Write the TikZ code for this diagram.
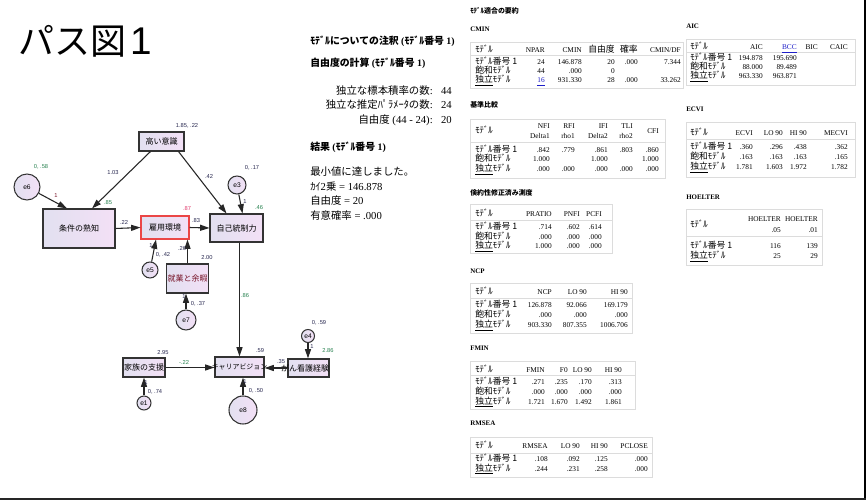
\documentclass[tikz,border=0pt]{standalone}
\usepackage{fontspec}
\setmainfont{Liberation Serif}
\newfontfamily\jp{Noto Sans CJK JP}
\newfontfamily\lsans{Liberation Sans}
\usetikzlibrary{arrows.meta,calc}
\definecolor{boxL}{RGB}{226,224,240}
\definecolor{boxR}{RGB}{243,224,246}
\definecolor{pdark}{RGB}{40,40,80}
\definecolor{pgreen}{RGB}{40,130,80}
\definecolor{pred}{RGB}{120,20,40}
\definecolor{ppink}{RGB}{225,60,110}
\definecolor{redbox}{RGB}{235,70,70}
\definecolor{tline}{RGB}{220,220,220}
\definecolor{linkc}{RGB}{30,30,200}
\newcommand\bj{\jp\fontsize{6}{7}\selectfont}
\newcommand\pl{\lsans\fontsize{4.3}{5}\selectfont}
\newcommand\tf{\fontsize{5.5}{7}\selectfont}
\newcommand\thf{\bfseries\fontsize{5.2}{6}\selectfont}
\newcommand\tj[1]{{\jp\fontsize{6.6}{7}\selectfont #1}}
\newcommand\thj[1]{{\jp\bfseries\fontsize{5.2}{6}\selectfont #1}}
\newcommand\mM{\tj{ﾓﾃﾞﾙ}}
\newcommand\mA{\tj{ﾓﾃﾞﾙ番号 1}}
\newcommand\mS{\tj{飽和ﾓﾃﾞﾙ}}
\newcommand\mI{\tj{\underline{独立}ﾓﾃﾞﾙ}}
\newcommand\hb[1]{{\jp\bfseries #1}}
\newcommand\mj[1]{{\jp\fontsize{7.8}{9}\selectfont #1}}
\newcommand\trow[4]{\node[tl] (#1) at (\tx,#2) {#3};
  \foreach \xx/\cellt [count=\k] in {#4} {\node[tc] (#1-\k) at (\xx,#2) {\cellt};}}
\begin{document}
\begin{tikzpicture}[x=0.75pt,y=-0.75pt,
  var/.style={draw=black!80, line width=0.8pt, left color=boxL, right color=boxR, inner sep=0, font=\bj},
  evar/.style={circle, draw=black!80, line width=0.8pt, left color=boxL, right color=boxR, inner sep=0, font=\lsans\fontsize{5}{6}\selectfont},
  arr/.style={draw=black!85, line width=0.8pt, -{Triangle[length=7pt,width=4.5pt]}},
  lab/.style={inner sep=0, font=\pl, text=pdark},
  tc/.style={anchor=base east, inner sep=0, font=\tf},
  tl/.style={anchor=base west, inner sep=0, font=\tf},
  th/.style={anchor=base west, inner sep=0, font=\thf},
  tbl/.style={draw=tline, line width=0.75pt},
  mh/.style={anchor=base west, inner sep=0, font=\bfseries\fontsize{7.4}{9}\selectfont},
  mr/.style={anchor=base east, inner sep=0, font=\fontsize{8}{9}\selectfont},
  mtxt/.style={anchor=base west, inner sep=0, font=\fontsize{8}{9}\selectfont}]
\useasboundingbox (0,0) rectangle (868,502);
\fill[white] (0,0) rectangle (868,502);
% page border
\draw[black, line width=2.2pt] (865,0) -- (865,500);
\draw[black!85, line width=1.2pt] (0,499) -- (866,499);
% title
\node[anchor=base west, inner sep=0] (title) at (18,55) {\jp\fontsize{27}{30}\selectfont パス図\hspace{3pt}{\lsans\fontsize{29}{30}\selectfont 1}};
% ---------------- path diagram ----------------
\node[var, minimum width=45*0.75pt, minimum height=19*0.75pt] (koi) at (161.5,141.5) {高い意識};
\node[var, minimum width=72*0.75pt, minimum height=39*0.75pt] (jouken) at (79,228.5) {条件の熟知};
\node[var, draw=redbox, minimum width=48*0.75pt, minimum height=23*0.75pt] (koyou) at (165,227.5) {雇用環境};
\node[var, minimum width=53*0.75pt, minimum height=28*0.75pt] (jiko) at (236.5,228) {自己統制力};
\node[var, minimum width=42*0.75pt, minimum height=29*0.75pt] (shugyo) at (187.5,278.5) {};
\node[inner sep=0, font=\bj, text=pred] (shugyot) at (187.5,278.5) {就業と余暇};
\node[var, minimum width=42*0.75pt, minimum height=19*0.75pt] (kazoku) at (144,367.5) {};
\node[inner sep=0, font=\bj] (kazokut) at (144,367.5) {家族の支援};
\node[var, minimum width=49*0.75pt, minimum height=20*0.75pt] (career) at (239.5,367) {};
\node[inner sep=0, font=\jp\fontsize{5.2}{6}\selectfont] (careert) at (239.5,367) {キャリアビジョン};
\node[var, minimum width=41*0.75pt, minimum height=18*0.75pt] (gan) at (308.5,368) {};
\node[inner sep=0, font=\bj] (gant) at (305,368) {がん看護経験};
\node[evar, minimum size=26*0.75pt] (e6) at (27,187) {e6};
\node[evar, minimum size=18*0.75pt] (e3) at (237,185) {e3};
\node[evar, minimum size=16*0.75pt] (e5) at (150,270) {e5};
\node[evar, minimum size=20*0.75pt] (e7) at (186,320) {e7};
\node[evar, minimum size=14*0.75pt] (e1) at (144,403) {e1};
\node[evar, minimum size=28*0.75pt] (e8) at (243,410) {e8};
\node[evar, minimum size=13*0.75pt] (e4) at (308,336) {e4};
% connectors
\draw[arr] (e6) -- ($(jouken.north)+(-12,0)$);
\draw[arr] ($(koi.south)+(-11,0)$) -- ($(jouken.north)+(13,0)$);
\draw[arr] ($(koi.south)+(17,0)$) -- ($(jiko.north)+(-10,0)$);
\draw[arr] (jouken.east) -- (koyou.west);
\draw[arr] (koyou.east) -- (jiko.west);
\draw[arr] (e3) -- ($(jiko.north)+(6,0)$);
\draw[arr] (e5) -- ($(koyou.south)+(-9,0)$);
\draw[arr] (shugyo.north) -- (shugyo.north |- koyou.south);
\draw[arr] (e7.north) -- (e7.north |- shugyo.south);
\draw[arr] (e1.north) -- (e1.north |- kazoku.south);
\draw[arr] (kazoku.east) -- (kazoku.east -| career.west);
\draw[arr] (career.north |- jiko.south) -- (career.north);
\draw[arr] (e8.north) -- (e8.north |- career.south);
\draw[arr] (gan.west) -- (gan.west -| career.east);
\draw[arr] (e4.south) -- (e4.south |- gan.north);
% labels
\node[lab] (l1) at (187,126) {1.85, .22};
\node[lab] (l2) at (113,173) {1.03};
\node[lab, text=pgreen] (l3) at (108,203) {.85};
\node[lab, text=pgreen] (l4) at (41,167) {0, .58};
\node[lab, text=pred] (l5) at (56,196) {1};
\node[lab] (l6) at (124,222) {.22};
\node[lab, text=ppink] (l7) at (187,209) {.87};
\node[lab] (l8) at (196,221) {.83};
\node[lab] (l9) at (209,177) {.42};
\node[lab] (l10) at (252,168) {0, .17};
\node[lab] (l11) at (245,202) {1};
\node[lab, text=pgreen] (l12) at (259,208) {.46};
\node[lab] (l13) at (151,246) {1};
\node[lab] (l14) at (163,255) {0, .42};
\node[lab] (l15) at (182,249) {.26};
\node[lab] (l16) at (207,258) {2.00};
\node[lab] (l17) at (184,297) {1};
\node[lab] (l18) at (198,304) {0, .37};
\node[lab, text=pgreen] (l19) at (245,296) {.86};
\node[lab] (l20) at (260,351) {.59};
\node[lab] (l21) at (163,353) {2.95};
\node[lab, text=pgreen] (l22) at (184,362) {-.22};
\node[lab] (l23) at (146,383) {1};
\node[lab] (l24) at (155,392) {0, .74};
\node[lab] (l25) at (245,382) {1};
\node[lab] (l26) at (256,391) {0, .50};
\node[lab] (l27) at (281,362) {.35};
\node[lab] (l28) at (312,347) {1};
\node[lab] (l29) at (319,323) {0, .59};
\node[lab, text=pgreen] (l30) at (328,351) {2.86};
% ---------------- middle text ----------------
\node[mh] (note) at (310,45) {\hb{ﾓﾃﾞﾙについての注釈} (\hb{ﾓﾃﾞﾙ番号} 1)};
\node[mh] (dfcalc) at (310,67) {\hb{自由度の計算} (\hb{ﾓﾃﾞﾙ番号} 1)};
\node[mr] (m1l) at (433,95) {\mj{独立な標本積率の数}:};
\node[mr] (m1v) at (452,95) {44};
\node[mr] (m2l) at (433,109) {\mj{独立な推定ﾊﾟﾗﾒｰﾀの数}:};
\node[mr] (m2v) at (452,109) {24};
\node[mr] (m3l) at (433,124) {\mj{自由度} (44 - 24):};
\node[mr] (m3v) at (452,124) {20};
\node[mh] (res) at (310,151) {\hb{結果} (\hb{ﾓﾃﾞﾙ番号} 1)};
\node[mtxt] (r1) at (310,176) {\mj{最小値に達しました。}};
\node[mtxt] (r2) at (310,191) {\mj{ｶｲ}2\mj{乗} = 146.878};
\node[mtxt] (r3) at (310,205) {\mj{自由度} = 20};
\node[mtxt] (r4) at (310,220) {\mj{有意確率} = .000};
% ---------------- tables left ----------------
\def\tx{475}
\node[th] (hfit) at (470,14) {\thj{ﾓﾃﾞﾙ適合の要約}};
\node[th] (hcmin) at (470,32) {CMIN};
\draw[tbl] (470,43) rectangle (683,89); \draw[tbl] (470,56) -- (683,56);
\trow{cminh}{53}{\mM}{545/NPAR, 582/CMIN, 615/\tj{自由度}, 638/\tj{確率}, 681/{CMIN/DF}}
\trow{cmina}{65}{\mA}{545/24, 582/146.878, 615/20, 638/.000, 681/7.344}
\trow{cmins}{74}{\mS}{545/44, 582/.000, 615/0}
\trow{cmini}{83}{\mI}{545/\textcolor{linkc}{\underline{16}}, 582/931.330, 615/28, 638/.000, 681/33.262}
%
\node[th] (hbase) at (470,108) {\thj{基準比較}};
\draw[tbl] (470,120) rectangle (665,179); \draw[tbl] (470,143) -- (665,143);
\node[tl] (baseh) at (475,134) {\mM};
\foreach \xx/\cellt [count=\k] in {550/NFI, 575/RFI, 608/IFI, 633/TLI} {\node[tc] (bh1-\k) at (\xx,129) {\cellt};}
\foreach \xx/\cellt [count=\k] in {550/Delta1, 575/rho1, 608/Delta2, 633/rho2} {\node[tc] (bh2-\k) at (\xx,139) {\cellt};}
\node[tc] (bhcfi) at (659,134) {CFI};
\trow{basea}{153}{\mA}{550/.842, 575/.779, 608/.861, 633/.803, 659/.860}
\trow{bases}{162}{\mS}{550/1.000, 608/1.000, 659/1.000}
\trow{basei}{172}{\mI}{550/.000, 575/.000, 608/.000, 633/.000, 659/.000}
%
\node[th] (hpars) at (470,196) {\thj{倹約性修正済み測度}};
\draw[tbl] (470,205) rectangle (612,254); \draw[tbl] (470,221) -- (612,221);
\trow{parh}{217}{\mM}{552/PRATIO, 580/PNFI, 602/PCFI}
\trow{para}{230}{\mA}{552/.714, 580/.602, 602/.614}
\trow{pars}{240}{\mS}{552/.000, 580/.000, 602/.000}
\trow{pari}{249}{\mI}{552/1.000, 580/.000, 602/.000}
%
\node[th] (hncp) at (470,274) {NCP};
\draw[tbl] (470,284) rectangle (632,334); \draw[tbl] (470,299) -- (632,299);
\trow{ncph}{295}{\mM}{552/NCP, 587/LO 90, 628/HI 90}
\trow{ncpa}{308}{\mA}{552/126.878, 587/92.066, 628/169.179}
\trow{ncps}{318}{\mS}{552/.000, 587/.000, 628/.000}
\trow{ncpi}{328}{\mI}{552/903.330, 587/807.355, 628/1006.706}
%
\node[th] (hfmin) at (470,351) {FMIN};
\draw[tbl] (470,362) rectangle (635,410); \draw[tbl] (470,376) -- (635,376);
\trow{fminh}{373}{\mM}{545/FMIN, 568/F0, 592/LO 90, 622/HI 90}
\trow{fmina}{384}{\mA}{545/.271, 568/.235, 592/.170, 622/.313}
\trow{fmins}{394}{\mS}{545/.000, 568/.000, 592/.000, 622/.000}
\trow{fmini}{404}{\mI}{545/1.721, 568/1.670, 592/1.492, 622/1.861}
%
\node[th] (hrmsea) at (470,426) {RMSEA};
\draw[tbl] (470,437) rectangle (652,477); \draw[tbl] (470,453) -- (652,453);
\trow{rmh}{449}{\mM}{548/RMSEA, 580/LO 90, 608/HI 90, 648/PCLOSE}
\trow{rma}{461}{\mA}{548/.108, 580/.092, 608/.125, 648/.000}
\trow{rmi}{471}{\mI}{548/.244, 580/.231, 608/.258, 648/.000}
% ---------------- tables right ----------------
\def\tx{690}
\node[th] (haic) at (686,29) {AIC};
\draw[tbl] (686,40) rectangle (855,86); \draw[tbl] (686,53) -- (855,53);
\trow{aich}{50}{\mM}{763/AIC, 797/\textcolor{linkc}{\underline{BCC}}, 818/BIC, 848/CAIC}
\trow{aica}{61}{\mA}{763/194.878, 797/195.690}
\trow{aics}{70}{\mS}{763/88.000, 797/89.489}
\trow{aici}{79}{\mI}{763/963.330, 797/963.871}
%
\node[th] (hecvi) at (686,112) {ECVI};
\draw[tbl] (686,123) rectangle (855,178); \draw[tbl] (686,140) -- (855,140);
\trow{ecvih}{136}{\mM}{753/ECVI, 783/LO 90, 807/HI 90, 848/MECVI}
\trow{ecvia}{150}{\mA}{753/.360, 783/.296, 807/.438, 848/.362}
\trow{ecvis}{160}{\mS}{753/.163, 783/.163, 807/.163, 848/.165}
\trow{ecvii}{170}{\mI}{753/1.781, 783/1.603, 807/1.972, 848/1.782}
%
\node[th] (hhoel) at (686,200) {HOELTER};
\draw[tbl] (686,210) rectangle (822,266); \draw[tbl] (686,237) -- (822,237);
\node[tl] (hoelh) at (690,228) {\mM};
\node[tc] (hoh1) at (781,222) {HOELTER};
\node[tc] (hoh2) at (818,222) {HOELTER};
\node[tc] (hoh3) at (781,233) {.05};
\node[tc] (hoh4) at (818,233) {.01};
\trow{hoela}{249}{\mA}{781/116, 818/139}
\trow{hoeli}{259}{\mI}{781/25, 818/29}
\end{tikzpicture}
\end{document}
